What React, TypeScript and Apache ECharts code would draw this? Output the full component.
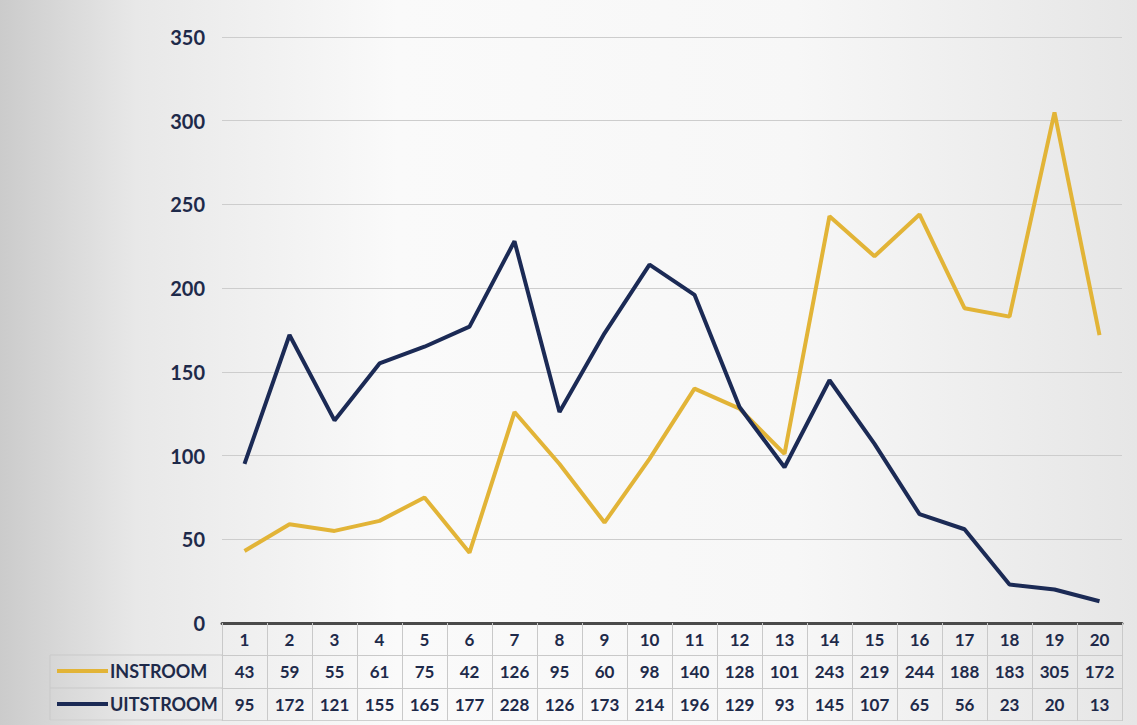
import React, { useEffect, useRef } from "react";
import * as echarts from "echarts";

const categories = ["1","2","3","4","5","6","7","8","9","10","11","12","13","14","15","16","17","18","19","20"];
const instroom = [43,59,55,61,75,42,126,95,60,98,140,128,101,243,219,244,188,183,305,172];
const uitstroom = [95,172,121,155,165,177,228,126,173,214,196,129,93,145,107,65,56,23,20,13];
const seriesNames = ["INSTROOM", "UITSTROOM"];

const GOLD = "#E2B437";
const NAVY = "#1B2A55";
const TEXT = "#1E2A4A";
const FONT = "Lato";

export default function App() {
  const ref = useRef<HTMLDivElement>(null);
  useEffect(() => {
    if (!ref.current) return;
    const chart = echarts.init(ref.current, null, { renderer: "svg" });
    const gridLeft = 222, gridRight = 15, gridTop = 37, gridBottom = 102;
    const rowH = 33;
    const labelStyle = { color: TEXT, fontFamily: FONT, fontWeight: "bold" as const, fontSize: 17 };
    const tableAxis = (offset: number, data: (string | number)[], lineStyle: any, showLabel = true) => ({
      type: "category",
      data: data.map(String),
      position: "bottom",
      offset,
      boundaryGap: true,
      axisLine: { show: true, lineStyle },
      axisTick: { show: true, length: rowH, alignWithLabel: false, lineStyle: { color: "#c9c9c9", width: 1 } },
      axisLabel: { show: showLabel, interval: 0, margin: 8, ...labelStyle },
    });
    chart.setOption({
      animation: false,
      backgroundColor: {
        type: "linear", x: 0, y: 0, x2: 1, y2: 0,
        colorStops: [
          { offset: 0, color: "#cbcbcb" },
          { offset: 0.12, color: "#e8e8e8" },
          { offset: 0.35, color: "#fafafa" },
          { offset: 0.7, color: "#f7f7f7" },
          { offset: 1, color: "#e6e6e6" },
        ],
      },
      grid: { left: gridLeft, right: gridRight, top: gridTop, bottom: gridBottom, containLabel: false },
      xAxis: [
        tableAxis(0, categories, { color: "#4a4a4a", width: 3 }),
        tableAxis(rowH - 1, instroom, { color: "#c9c9c9", width: 1 }),
        tableAxis(2 * rowH - 1, uitstroom, { color: "#c9c9c9", width: 1 }),
        {
          type: "category", data: categories, position: "bottom", offset: 3 * rowH - 2,
          axisLine: { show: true, lineStyle: { color: "#cfcfcf", width: 1 } },
          axisTick: { show: false }, axisLabel: { show: false },
        },
      ],
      yAxis: {
        type: "value",
        min: 0, max: 350, interval: 50,
        axisLine: { show: false },
        axisTick: { show: false },
        axisLabel: { margin: 17, ...labelStyle, fontSize: 20 },
        splitLine: { lineStyle: { color: "#cdcdcd", width: 1 } },
      },
      series: [
        { name: seriesNames[0], type: "line", xAxisIndex: 0, data: instroom, showSymbol: false, lineStyle: { color: GOLD, width: 4 }, itemStyle: { color: GOLD }, z: 3 },
        { name: seriesNames[1], type: "line", xAxisIndex: 0, data: uitstroom, showSymbol: false, lineStyle: { color: NAVY, width: 4 }, itemStyle: { color: NAVY }, z: 4 },
      ],
      graphic: [
        { type: "line", shape: { x1: 50, y1: 655, x2: 222, y2: 655 }, style: { stroke: "#c9c9c9", lineWidth: 1 } },
        { type: "line", shape: { x1: 50, y1: 688, x2: 222, y2: 688 }, style: { stroke: "#c9c9c9", lineWidth: 1 } },
        { type: "line", shape: { x1: 50, y1: 720, x2: 222, y2: 720 }, style: { stroke: "#cfcfcf", lineWidth: 1 } },
        { type: "line", shape: { x1: 50, y1: 655, x2: 50, y2: 720 }, style: { stroke: "#c9c9c9", lineWidth: 1 } },
        { type: "line", shape: { x1: 57, y1: 671, x2: 108, y2: 671 }, style: { stroke: GOLD, lineWidth: 4 } },
        { type: "line", shape: { x1: 57, y1: 704, x2: 108, y2: 704 }, style: { stroke: NAVY, lineWidth: 4 } },
        { type: "text", x: 110, y: 671, style: { text: seriesNames[0], fill: TEXT, font: `bold 18px ${FONT}`, verticalAlign: "middle" } },
        { type: "text", x: 110, y: 704, style: { text: seriesNames[1], fill: TEXT, font: `bold 18px ${FONT}`, verticalAlign: "middle" } },
      ],
    });
    return () => chart.dispose();
  }, []);
  return <div ref={ref} style={{ position: "fixed", left: 0, top: 0, width: 1137, height: 725 }} />;
}
